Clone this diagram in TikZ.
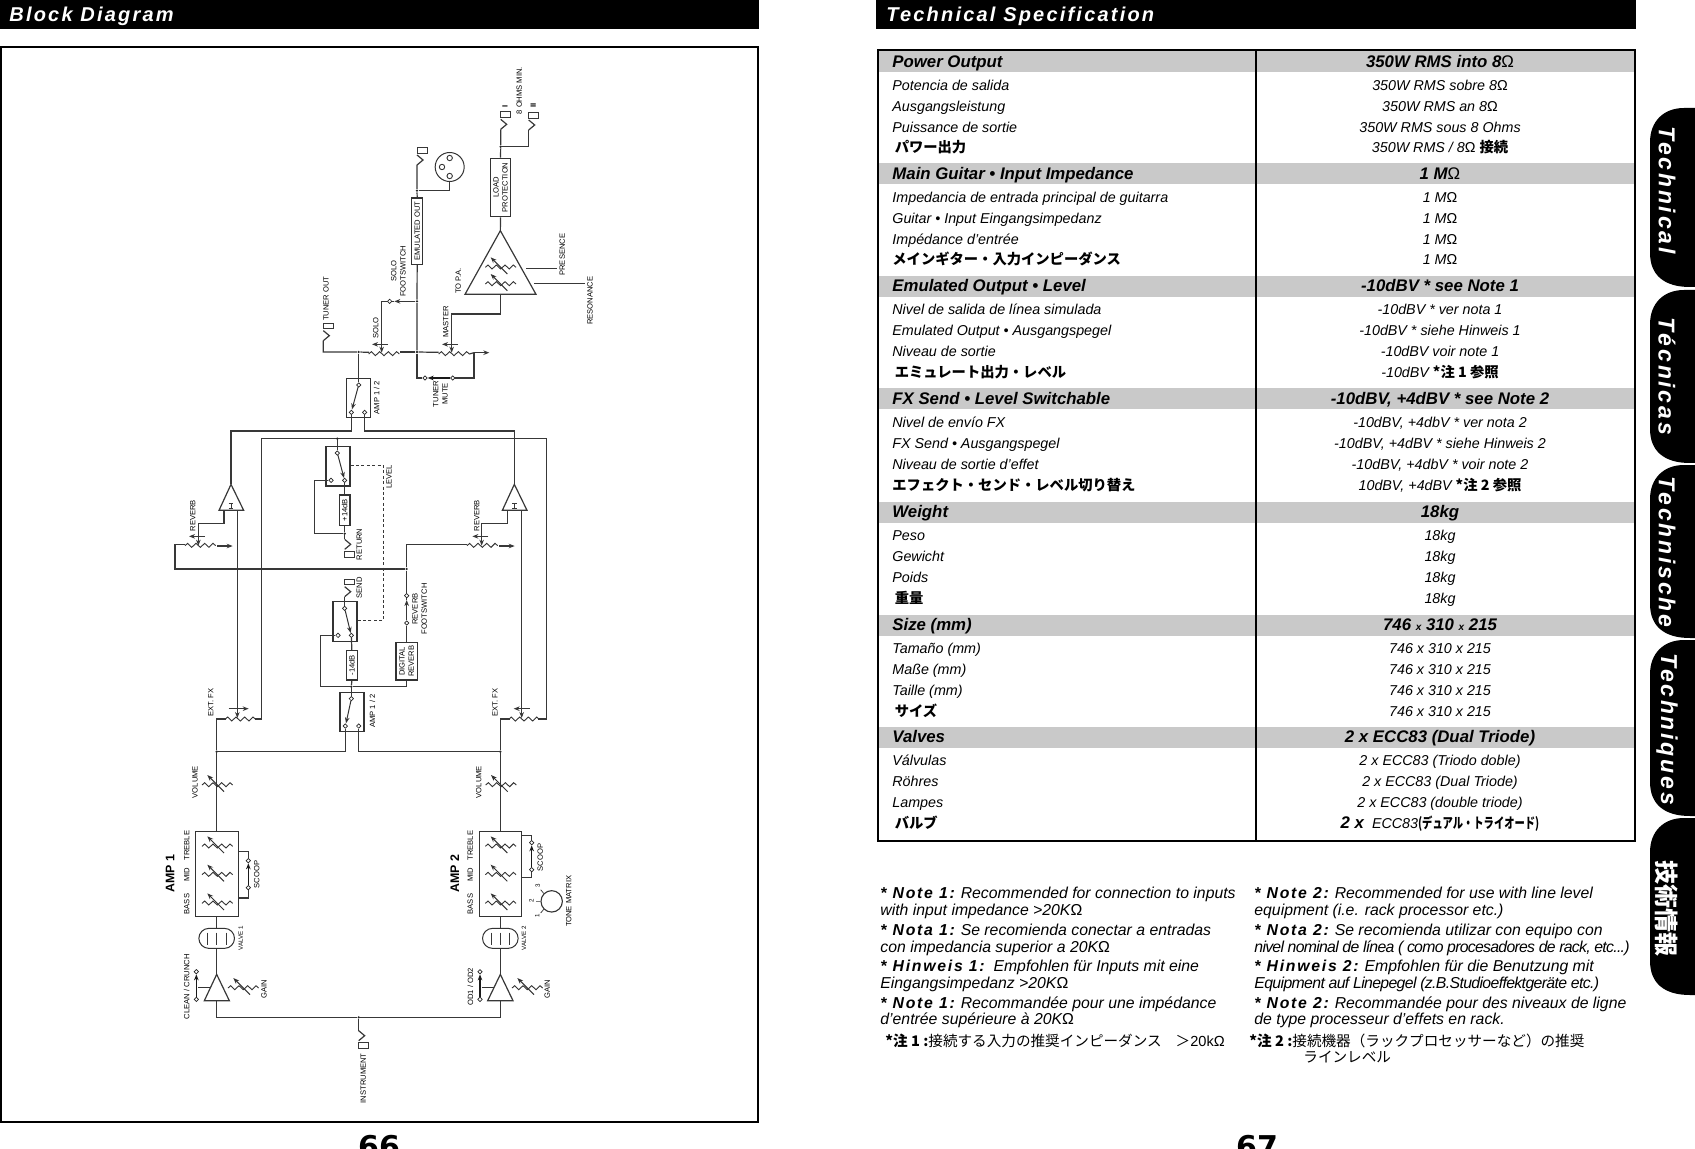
\documentclass[tikz,border=0pt]{standalone}
\usepackage{fontspec}
\usepackage{graphicx}
\setmainfont{Liberation Sans}
\newfontfamily\cjk{Noto Sans CJK JP}
\newfontfamily\pagefont{DejaVu Sans}
\usetikzlibrary{arrows.meta,shapes.geometric,shapes.misc}
\newcommand{\om}{{\fontseries{m}\upshape\selectfont Ω}}
\newcounter{nn}
\newcommand{\jb}[1]{{\cjk\bfseries #1}}
\newcommand{\nt}[1]{{\bfseries\addfontfeature{LetterSpace=11}#1}}
\newcommand{\Hd}[3]{\fill[barg] (879,#1-10.5) rectangle (1634,#1+10.5);
 \stepcounter{nn}\node[hdl] (n\thenn) at (892,#1+5.5) {#2};
 \stepcounter{nn}\node[hdr] (n\thenn) at (1440,#1+5.5) {#3};}
\newcommand{\Rw}[3]{\stepcounter{nn}\node[rwl] (n\thenn) at (892,#1+5) {#2};
 \stepcounter{nn}\node[rwr] (n\thenn) at (1440,#1+5) {#3};}
\newcommand{\Rows}[9]{\Rw{#1+23.5}{#2}{#3}\Rw{#1+44.5}{#4}{#5}\Rw{#1+65.5}{#6}{#7}\Rw{#1+86}{#8}{#9}}
\newcommand{\Nt}[3]{\stepcounter{nn}\node[notel] (n\thenn) at (#1,#2+5) {#3};}
\newcommand{\Lab}[3]{\stepcounter{nn}\node[lab] (n\thenn) at (#1,#2) {#3};}
\newcommand{\LabS}[3]{\stepcounter{nn}\node[lab,font=\fontsize{3.1}{3.6}\selectfont] (n\thenn) at (#1,#2) {#3};}
\newcommand{\Dm}[3]{\node[dmd] (#1) at (#2,#3) {};}
\newcommand{\Jn}[3]{\node[jn] (#1) at (#2,#3) {};}
\newcommand{\TabS}[4]{\fill (1695,#1) -- (1684,#1) .. controls (1663,#1) and (1650,#1+14) .. (1650,#1+34) -- (1650,#2-34) .. controls (1650,#2-12) and (1664,#2) .. (1690,#2) -- (1695,#2) -- cycle;
 \stepcounter{nn}\node[tabt] (n\thenn) at (1667,#3) {#4};}
\tikzset{
 barg/.style={fill=black!21},
 hdl/.style={anchor=base west,inner sep=0,font=\fontsize{8.4}{9}\bfseries\itshape\selectfont},
 hdr/.style={anchor=base,inner sep=0,font=\fontsize{8.4}{9}\bfseries\itshape\selectfont},
 rwl/.style={anchor=base west,inner sep=0,font=\fontsize{7.15}{8}\itshape\selectfont},
 rwr/.style={anchor=base,inner sep=0,font=\fontsize{7.15}{8}\itshape\selectfont},
 notel/.style={anchor=base west,inner sep=0,font=\fontsize{7.9}{8}\itshape\selectfont},
 tabt/.style={rotate=-90,inner sep=0,text=white,font=\fontsize{11.5}{12}\bfseries\itshape\addfontfeature{LetterSpace=12}\selectfont},
 headt/.style={anchor=base west,inner sep=0,text=white,font=\fontsize{10}{11}\bfseries\itshape\addfontfeature{LetterSpace=11}\selectfont},
 lab/.style={rotate=90,inner sep=0,align=center,text=black,font=\fontsize{3.8}{4.6}\selectfont},
 ampt/.style={rotate=90,inner sep=0,font=\fontsize{6.2}{7}\bfseries\selectfont},
 wire/.style={line width=.6pt,draw=black!78,line join=miter},
 thinw/.style={line width=.35pt,draw=black!80},
 blade/.style={line width=.75pt,draw=black!90},
 tip/.tip={Stealth[length=3pt,width=2.3pt]},
 dmd/.style={diamond,draw=black!85,line width=.35pt,fill=white,inner sep=0,minimum size=2.3pt},
 jn/.style={circle,fill=black!85,inner sep=0,minimum size=1.3pt},
 tbox/.style={rotate=90,draw=black!80,line width=.6pt,inner sep=0,align=center,text=black,font=\fontsize{3.8}{4.6}\selectfont},
 sbox/.style={draw=black!80,line width=.55pt,inner sep=0,minimum width=12pt,minimum height=19.7pt},
 eqbox/.style={draw=black!80,line width=.6pt,inner sep=0,minimum width=21.3pt,minimum height=42.5pt},
 valve/.style={rounded rectangle,draw=black!80,line width=.5pt,inner sep=0,minimum width=17.8pt,minimum height=10pt},
 zz/.pic={\draw[thinw,line width=.45pt] (-46,0)--(-38,-7)--(-26,5)--(-13,-7)--(0,5)--(13,-7)--(26,5)--(38,-7)--(46,0);},
 varpot/.pic={\draw[thinw,line width=.45pt] (-46,0)--(-38,-7)--(-26,5)--(-13,-7)--(0,5)--(13,-7)--(26,5)--(38,-7)--(46,0);
   \draw[thinw,line width=.5pt,-tip] (20,20)--(-30,-30);},
 jackU/.pic={\draw[wire] (0,0)--(18,-15)--(0,-30); \draw[wire,line width=.45pt] (0,-36) rectangle (30,-53);},
 jackD/.pic={\draw[wire] (0,0)--(18,15)--(0,30); \draw[wire,line width=.45pt] (0,36) rectangle (30,53);},
 crossL/.pic={\draw[wire,-tip] (24,0)--(-24,0);},
 crossR/.pic={\draw[wire,-tip] (-30,0)--(30,0);},
 outR/.pic={\draw[wire,-tip] (0,0)--(46,0);},
 amps/.pic={\draw[wire,line width=.4pt] (-7,-7)--(7,-7) (0,-7)--(0,7) (-7,7)--(7,7);},
}
\begin{document}
\begin{tikzpicture}[x=.5pt,y=-.5pt]
\useasboundingbox (0,0) rectangle (1695,1149);
\clip (0,0) rectangle (1695,1149);
% header bars
\fill (0,0) rectangle (759,29);
\fill (876,0) rectangle (1636,29);
\node[headt] (titleL) at (9,21.5) {Block Diagram};
\node[headt] (titleR) at (886,21.5) {Technical Specification};
\draw[line width=1pt] (.5,47.5) rectangle (758,1122);
\node[anchor=base,inner sep=0,font=\pagefont\bfseries\fontsize{15}{16}\selectfont] (pg66) at (379,1157) {66};
\node[anchor=base,inner sep=0,font=\pagefont\bfseries\fontsize{15}{16}\selectfont] (pg67) at (1257,1157) {67};
% table
\Hd{61.6}{Power Output}{350W RMS into 8\om}
\Rows{61.6}{Potencia de salida}{350W RMS sobre 8\om}{Ausgangsleistung}{350W RMS an 8\om}{Puissance de sortie}{350W RMS sous 8 Ohms}{\jb{\,パワー出力}}{350W RMS / 8\om\ \jb{接続}}
\Hd{174}{Main Guitar • Input Impedance}{1 M\om}
\Rows{174}{Impedancia de entrada principal de guitarra}{1 M\om}{Guitar • Input Eingangsimpedanz}{1 M\om}{Impédance d'entrée}{1 M\om}{\jb{メインギター・入力インピーダンス}}{1 M\om}
\Hd{286.5}{Emulated Output • Level}{-10dBV * see Note 1}
\Rows{286.5}{Nivel de salida de línea simulada}{-10dBV * ver nota 1}{Emulated Output • Ausgangspegel}{-10dBV * siehe Hinweis 1}{Niveau de sortie}{-10dBV voir note 1}{\jb{\,エミュレート出力・レベル}}{-10dBV \jb{*注 1 参照}}
\Hd{399}{FX Send • Level Switchable}{-10dBV, +4dBV * see Note 2}
\Rows{399}{Nivel de envío FX}{-10dBV, +4dbV * ver nota 2}{FX Send • Ausgangspegel}{-10dBV, +4dBV * siehe Hinweis 2}{Niveau de sortie d'effet}{-10dBV, +4dbV * voir note 2}{\jb{エフェクト・センド・レベル切り替え}}{10dBV, +4dBV \jb{*注 2 参照}}
\Hd{512}{Weight}{18kg}
\Rows{512}{Peso}{18kg}{Gewicht}{18kg}{Poids}{18kg}{\jb{\,重量}}{18kg}
\Hd{625}{Size (mm)}{746 {\fontsize{5}{5}\selectfont x} 310 {\fontsize{5}{5}\selectfont x} 215}
\Rows{625}{Tamaño (mm)}{746 x 310 x 215}{Maße (mm)}{746 x 310 x 215}{Taille (mm)}{746 x 310 x 215}{\jb{\,サイズ}}{746 x 310 x 215}
\Hd{737}{Valves}{2 x ECC83 (Dual Triode)}
\Rows{737}{Válvulas}{2 x ECC83 (Triodo doble)}{Röhres}{2 x ECC83 (Dual Triode)}{Lampes}{2 x ECC83 (double triode)}{\jb{\,バルブ}}{{\fontsize{8.4}{9}\selectfont\bfseries 2 x}\ \ ECC83\scalebox{.72}[1]{\jb{(デュアル・トライオード)}}}
\draw[line width=1pt] (878,50) -- (1635,50) -- (1635,841) -- (878,841) -- cycle;
\draw[line width=1pt] (1256,50) -- (1256,841);
\draw[line width=.6pt] (878,841) -- (1635,841);
% notes
\Nt{880}{893}{\nt{*\ Note 1:} Recommended for connection to inputs}
\Nt{880}{910}{with input impedance >20K\om}
\Nt{880}{930}{\nt{*\ Nota 1:} Se recomienda conectar a entradas}
\Nt{880}{947}{con impedancia superior a 20K\om}
\Nt{880}{966}{\nt{*\ Hinweis 1:}\ \ Empfohlen für Inputs mit eine}
\Nt{880}{983}{Eingangsimpedanz >20K\om}
\Nt{880}{1003}{\nt{*\ Note 1:} Recommandée pour une impédance}
\Nt{880}{1019}{d'entrée supérieure à 20K\om}
\Nt{885}{1041}{\upshape\fontsize{7.3}{8}\selectfont\jb{*注 1 :}{\cjk 接続する入力の推奨インピーダンス\hspace{7pt}＞}20kΩ}
\Nt{1254}{893}{\nt{*\ Note 2:} Recommended for use with line level}
\Nt{1254}{910}{equipment (i.e. rack processor etc.)}
\Nt{1254}{930}{\nt{*\ Nota 2:} Se recomienda utilizar con equipo con}
\Nt{1254}{947}{\addfontfeature{LetterSpace=-4.5}nivel nominal de línea ( como procesadores de rack, etc...)}
\Nt{1254}{966}{\nt{*\ Hinweis 2:} Empfohlen für die Benutzung mit}
\Nt{1254}{983}{\addfontfeature{LetterSpace=-4}Equipment auf Linepegel (z.B.Studioeffektgeräte etc.)}
\Nt{1254}{1003}{\nt{*\ Note 2:} Recommandée pour des niveaux de ligne}
\Nt{1254}{1019}{de type processeur d'effets en rack.}
\Nt{1249}{1041}{\upshape\fontsize{7.3}{8}\selectfont\jb{*注 2 :}{\cjk 接続機器（ラックプロセッサーなど）の推奨}}
\Nt{1303}{1057}{\upshape\fontsize{7.3}{8}\selectfont{\cjk ラインレベル}}
% tabs
\TabS{108}{287}{190}{Technical}
\TabS{290}{463}{376}{Técnicas}
\TabS{465}{638}{552}{Technische}
\TabS{640}{816}{729}{Techniques}
\TabS{818}{995}{908}{{\cjk\bfseries\upshape\fontsize{12}{13}\selectfont 技術情報}}
% diagram
\begin{scope}[shift={(150,50)},x=.16667pt,y=-.16667pt]
% speaker outs
\Jn{spkj}{1052}{290}
\coordinate (spk1) at (1052,238);
\coordinate (spk2) at (1136,240);
\node[tbox,minimum width=29.2pt,minimum height=9.9pt] (load) at (1051.5,412.5) {LOAD\\PROTECTION};
\draw[wire] (spk1)--(spkj)--(load.east);
\draw[wire] (spkj)-|(spk2);
\pic at (spk1) {jackU};
\pic at (spk2) {jackU};
\Lab{1065}{170}{\bfseries I}
\Lab{1150}{167}{\bfseries II}
\Lab{1108}{122}{8 OHMS MIN.}
\coordinate (paT) at (1051,542);
\coordinate (paL) at (945,733);
\coordinate (paR) at (1158,733);
\coordinate (paB) at (1051,733);
\draw[wire] (load.west)--(paT);
\draw[wire] (paT)--(paL)--(paR)--cycle;
\pic at (1052,652) {varpot};
\pic at (1052,702) {varpot};
\Lab{925}{693}{TO P.A.}
\coordinate (pres1) at (1128,656); \coordinate (pres2) at (1220,656);
\coordinate (reso1) at (1153,700); \coordinate (reso2) at (1305,700);
\draw[wire] (pres1)--(pres2);
\draw[wire] (reso1)--(reso2);
\Lab{1237}{614}{PRESENCE}
\Lab{1320}{752}{RESONANCE}
% master
\coordinate (mbend) at (905,792);
\coordinate (mtip) at (905,908);
\draw[wire,-tip] (paB)|-(mbend)--(mtip);
\pic at (912,912) {zz};
\pic at (900,883) {crossL};
\Lab{887}{815}{MASTER}
\Jn{jm}{801}{906}
\coordinate (mL) at (866,907);
\draw[wire] (jm)--(mL);
\coordinate (mR) at (972,908);
\draw[wire] (958,912)--(972,908);
\pic at (972,908) {outR};
\Dm{tm1}{908}{984}
\Dm{tm2}{825}{984}
\draw[wire] (mR)|-(tm1);
\draw[blade,-tip] (tm1)--(tm2);
\Lab{871}{1032}{TUNER\\MUTE}
% emulated
\node[tbox,line width=.8pt,minimum width=33.3pt,minimum height=5.5pt] (emu) at (801.5,543) {EMULATED OUT};
\Jn{jxlr}{801}{422}
\coordinate (emj) at (801,345);
\draw[wire] (emu.east)--(jxlr)--(emj);
\pic at (emj) {jackU};
\node[circle,draw=black!80,line width=.5pt,inner sep=0,minimum size=14.5pt] (xlr) at (899,351) {};
\foreach \a/\b [count=\i] in {899/324,876/351,899/378}{\node[circle,draw=black!80,line width=.45pt,inner sep=0,minimum size=2.7pt] (xp\i) at (\a,\b) {};}
\draw[wire] (jxlr)-|(xlr.south);
\Jn{jsf}{801}{754}
\draw[wire] (emu.west)--(jsf)--(jm);
\draw[wire] (jm)|-(tm2);
% solo
\Dm{sf}{719}{754}
\coordinate (sbend) at (695,754);
\coordinate (stip) at (695,908);
\draw[wire,-tip] (jsf)--(733,754);
\draw[wire] (733,754)--(sf);
\draw[wire,-tip] (sf)--(sbend)--(stip);
\pic at (702,912) {zz};
\pic at (690,883) {crossL};
\Lab{677}{834}{SOLO}
\Lab{745}{664}{SOLO\\FOOTSWITCH}
\Jn{jt}{626}{906}
\coordinate (tuj) at (520,872);
\draw[wire] (657,907)--(jt)--(520,906)--(tuj);
\pic at (tuj) {jackU};
\draw[wire] (jm)--(750,906);
\Lab{528}{746}{TUNER OUT}
% top amp switch
\node[sbox] (sw1) at (625,1044.5) {};
\Dm{s1a}{626}{1005}
\Dm{s1b}{604}{1087}
\Dm{s1c}{644}{1087}
\draw[wire] (jt)--(s1a);
\draw[thinw,line width=.5pt,-tip] (s1a)--(606,1078);
\Lab{680}{1043}{AMP 1 / 2}
% reverb amps
\coordinate (bL) at (243,1143);
\coordinate (bR) at (1093,1143);
\coordinate (atL) at (243,1303);
\coordinate (atR) at (1093,1303);
\draw[wire] (s1b)|-(bL)--(atL);
\draw[wire] (s1c)|-(bR)--(atR);
\draw[wire] (atL)--(207,1381)--(281,1381)--cycle;
\draw[wire] (atR)--(1057,1381)--(1131,1381)--cycle;
\pic at (243,1368) {amps};
\pic at (1093,1368) {amps};
% fx bus
\coordinate (busL) at (335,1166);
\coordinate (busR) at (1189,1166);
\coordinate (fxL) at (335,2007);
\coordinate (fxR) at (1189,2007);
\draw[wire] (fxL)--(busL)--(busR)--(fxR)--(1165,2007);
\draw[wire] (fxL)--(315,2007);
\Jn{jret}{562}{1166}
% return
\node[sbox] (sret) at (564,1249) {};
\Dm{r1}{562}{1209}
\Dm{r2}{543}{1291}
\Dm{r3}{584}{1291}
\draw[wire] (jret)--(r1);
\draw[thinw,line width=.5pt,-tip] (r1)--(582,1284);
\node[tbox,minimum width=15.2pt,minimum height=5.3pt] (p14) at (584,1380.5) {+14dB};
\draw[wire] (r3)--(p14.east);
\Jn{jr}{584}{1451}
\coordinate (rj) at (584,1468);
\draw[wire] (p14.west)--(jr)--(rj);
\draw[wire] (jr)-|(493,1291)--(r2);
\pic at (rj) {jackD};
\Lab{628}{1483}{RETURN}
% send
\node[sbox] (ssend) at (585,1714) {};
\Dm{s1}{584}{1675}
\Dm{s2}{604}{1756}
\Dm{s3}{564}{1756}
\coordinate (sj) at (584,1640);
\draw[wire] (s1)--(sj);
\pic at (sj) {jackU};
\draw[thinw,line width=.5pt,-tip] (s1)--(602,1749);
\Lab{628}{1614}{SEND}
\node[tbox,minimum width=14.7pt,minimum height=5.5pt] (m14) at (605.5,1846) {-14dB};
\draw[wire] (s2)--(m14.east);
\Jn{j14}{604}{1910}
\draw[wire] (m14.west)--(j14);
\node[sbox] (sw2) at (606,1985.5) {};
\Dm{w1}{604}{1946}
\Dm{w2}{586}{2028}
\Dm{w3}{626}{2028}
\draw[wire] (j14)--(w1);
\draw[thinw,line width=.5pt,-tip] (w1)--(588,2020);
\Lab{667}{1983}{AMP 1 / 2}
% dashed level
\coordinate (d1) at (700,1246);
\coordinate (d2) at (700,1711);
\draw[wire,line width=.45pt,dash pattern=on 1.5pt off 1.2pt] (sret.east|-d1)--(d1)--(d2)--(ssend.east|-d2);
\Lab{717}{1281}{LEVEL}
% digital reverb
\node[tbox,minimum width=18.7pt,minimum height=10.7pt] (dig) at (770,1834) {DIGITAL\\REVERB};
\coordinate (dfb) at (512,1910);
\coordinate (dfc) at (770,1910);
\draw[wire] (s3)-|(dfb)--(j14)--(dfc)--(dig.west);
\Dm{f1}{770}{1719}
\Dm{f2}{770}{1637}
\draw[wire] (dig.east)--(f1);
\draw[wire,-tip] (f1)--(770,1650);
\draw[wire] (770,1650)--(f2);
\Lab{809}{1677}{REVERB\\FOOTSWITCH}
\Jn{jrv}{770}{1557}
\coordinate (rvR) at (950,1483);
\coordinate (rvL) at (105,1483);
\coordinate (rvb) at (75,1557);
\draw[wire] (f2)--(jrv)|-(rvR);
\draw[wire] (jrv)--(rvb)|-(rvL);
\pic at (151,1487) {zz};
\pic at (997,1487) {zz};
\pic at (202,1488) {outR};
\pic at (1048,1488) {outR};
\pic at (141,1459) {crossL};
\pic at (991,1459) {crossL};
\coordinate (wL1) at (222,1381); \coordinate (wL2) at (145,1421); \coordinate (wLt) at (145,1487);
\coordinate (wR1) at (1073,1381); \coordinate (wR2) at (995,1421); \coordinate (wRt) at (995,1487);
\draw[wire,-tip] (wL1)|-(wL2)--(wLt);
\draw[wire,-tip] (wR1)|-(wR2)--(wRt);
\Lab{128}{1397}{REVERB}
\Lab{980}{1397}{REVERB}
% ext fx
\coordinate (exL1) at (262,1381); \coordinate (exLt) at (262,2004);
\coordinate (exR1) at (1115,1381); \coordinate (exRt) at (1115,2004);
\draw[wire,line width=.45pt,-tip] (exL1)--(exLt);
\draw[wire,line width=.45pt,-tip] (exR1)--(exRt);
\pic at (266,1976) {crossR};
\pic at (1115,1976) {crossL};
\pic at (271,2008) {zz};
\pic at (1122,2008) {zz};
\Lab{182}{1958}{EXT. FX}
\Lab{1035}{1958}{EXT. FX}
% amp buses
\Jn{jaL}{200}{2105}
\Jn{jaR}{1051}{2105}
\coordinate (eL) at (200,2007); \coordinate (eL2) at (228,2007);
\coordinate (eR) at (1051,2007); \coordinate (eR2) at (1080,2007);
\draw[wire] (eL2)--(eL)--(jaL)-|(w2);
\draw[wire] (eR2)--(eR)--(jaR)-|(w3);
% EQ
\node[eqbox] (eq1) at (201,2472.5) {};
\node[eqbox] (eq2) at (1051.5,2472.5) {};
\draw[wire] (jaL)--(eq1.north-|jaL);
\draw[wire] (jaR)--(eq2.north-|jaR);
\pic at (202,2205) {varpot};
\pic at (1053,2205) {varpot};
\Lab{135}{2196}{VOLUME}
\Lab{986}{2196}{VOLUME}
\foreach \yy in {2389,2474,2560}{\pic at (202,\yy) {varpot}; \pic at (1052,\yy) {varpot};}
\Lab{110}{2387}{TREBLE}
\Lab{110}{2474}{MID}
\Lab{110}{2562}{BASS}
\Lab{961}{2387}{TREBLE}
\Lab{961}{2474}{MID}
\Lab{961}{2562}{BASS}
\node[ampt] (amp1) at (60,2470) {AMP 1};
\node[ampt] (amp2) at (914,2470) {AMP 2};
% scoop
\Dm{sc1a}{295}{2432}
\Dm{sc1b}{295}{2513}
\coordinate (sc1t) at (295,2404);
\coordinate (sc1u) at (295,2544);
\draw[wire] (eq1.east|-sc1t)--(sc1t)--(sc1a);
\draw[wire] (sc1b)--(sc1u)--(eq1.east|-sc1u);
\draw[blade,-tip] (sc1b)--(sc1a);
\Lab{320}{2473}{SCOOP}
\Dm{sc2a}{1145}{2378}
\Dm{sc2b}{1145}{2459}
\coordinate (sc2t) at (1145,2357);
\coordinate (sc2u) at (1145,2482);
\draw[wire] (eq2.east|-sc2t)--(sc2t)--(sc2a);
\draw[wire] (sc2b)--(sc2u)--(eq2.east|-sc2u);
\draw[blade,-tip] (sc2b)--(sc2a);
\Lab{1171}{2422}{SCOOP}
% tone matrix
\node[circle,draw=black!80,line width=.55pt,inner sep=0,minimum size=10.7pt] (tone) at (1205,2554) {};
\draw[thinw] (tone.135)--++(-9,-11) (tone.west)--++(-13,0) (tone.225)--++(-9,11);
\LabS{1162}{2598}{1}
\LabS{1144}{2553}{2}
\LabS{1163}{2507}{3}
\Lab{1256}{2554}{TONE MATRIX}
% valves
\node[valve] (v1) at (200,2665) {};
\node[valve] (v2) at (1051,2665) {};
\foreach \c in {200,1051}{
 \foreach \d in {-28,0,28}{\draw[wire,line width=.45pt] (\c+\d,2648)--(\c+\d,2684);}}
\draw[wire] (eq1.south-|v1)--(v1.north);
\draw[wire] (eq2.south-|v2)--(v2.north);
\LabS{272}{2665}{VALVE 1}
\LabS{1122}{2665}{VALVE 2}
% input amps
\coordinate (t1) at (200,2773); \coordinate (t1b) at (200,2852);
\coordinate (t2) at (1051,2773); \coordinate (t2b) at (1051,2852);
\draw[wire] (v1.south)--(t1);
\draw[wire] (v2.south)--(t2);
\draw[wire] (t1)--(163,2852)--(238,2852)--cycle;
\draw[wire] (t2)--(1013,2852)--(1089,2852)--cycle;
\Jn{jin}{626}{2902}
\coordinate (jinj) at (626,2942);
\draw[wire] (t1b)|-(jin);
\draw[wire] (t2b)|-(jin);
\draw[wire] (jin)--(jinj);
\pic at (jinj) {jackD};
\Lab{640}{3085}{INSTRUMENT}
\pic at (280,2814) {varpot};
\pic at (1132,2814) {varpot};
\Lab{342}{2817}{GAIN}
\Lab{1192}{2817}{GAIN}
% channel switches
\Dm{c1a}{139}{2765}
\Dm{c1b}{139}{2848}
\Dm{c2a}{990}{2765}
\Dm{c2b}{990}{2848}
\draw[blade,-tip] (c1b)--(c1a);
\draw[blade,-tip] (c2b)--(c2a);
\draw[thinw] (145,2812)--(180,2812);
\draw[thinw] (995,2812)--(1032,2812);
\Lab{110}{2810}{CLEAN / CRUNCH}
\Lab{961}{2810}{OD1 / OD2}
\end{scope}
\end{tikzpicture}
\end{document}
